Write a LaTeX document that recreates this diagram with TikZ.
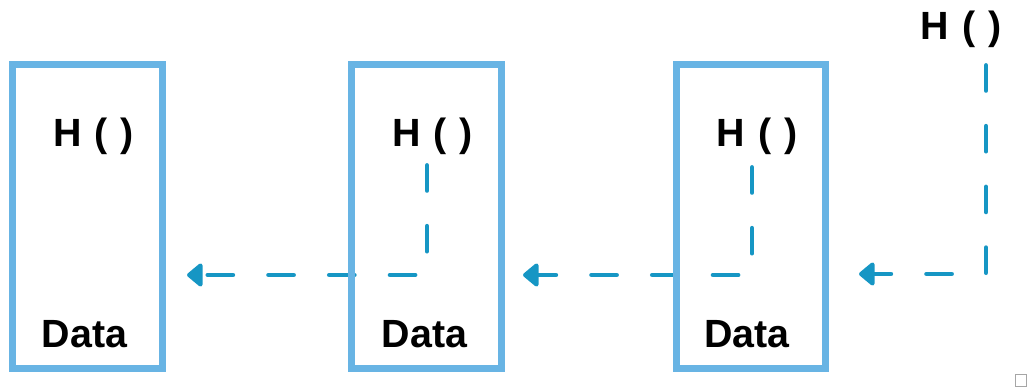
\documentclass[tikz,border=0pt]{standalone}
\usepackage{fontspec}
\setmainfont{Liberation Sans}
\usetikzlibrary{calc,arrows.meta,backgrounds}
\definecolor{boxblue}{RGB}{104,180,228}
\definecolor{linkblue}{RGB}{22,150,196}
\newcommand\lblfont{\fontsize{28}{34}\selectfont\bfseries\spaceskip=0.33em\relax}
\begin{document}
\begin{tikzpicture}[x=0.025cm,y=0.025cm,
  block/.style={draw=boxblue,line width=5pt,minimum width=3.725cm,minimum height=7.575cm,inner sep=0pt},
  lbl/.style={anchor=base,inner sep=0pt,font=\lblfont},
  link/.style={draw=linkblue,line width=3.5pt,line cap=round,dash pattern=on 17.7pt off 25.5pt,
    -{Triangle[length=12pt,width=19pt,round]}}]
\useasboundingbox (0,0) rectangle (1028,389);
% blocks
\node[block] (b1) at (87.5,172.5) {};
\node[block] (b2) at (426.5,172.5) {};
\node[block] (b3) at (751,172.5) {};
% labels
\node[lbl] (h1) at ($(b1.center)+(6,69.5)$) {H ( )};
\node[lbl] (h2) at ($(b2.center)+(6,69.5)$) {H ( )};
\node[lbl] (h3) at ($(b3.center)+(6,69.5)$) {H ( )};
\node[lbl] (h4) at (961,349) {H ( )};
\node[lbl] (d1) at ($(b1.center)+(-3,-130.5)$) {Data};
\node[lbl] (d2) at ($(b2.center)+(-2,-130.5)$) {Data};
\node[lbl] (d3) at ($(b3.center)+(-4,-130.5)$) {Data};
% hash pointers, under the blocks
\begin{scope}[on background layer]
\draw[link] ($(h4.base)+(25,-25.5)$) |- ($(b3.east)+(30,-57.5)$);
\draw[link] ($(h3.base)+(-5,-20.5)$) |- ($(b2.east)+(18.5,-58.5)$);
\draw[link] ($(h2.base)+(-5.5,-18.5)$) |- ($(b1.east)+(21.5,-58.5)$);
\end{scope}
% corner mark
\draw[gray!70,line width=0.6pt] (1015,3) rectangle (1026,15);
\end{tikzpicture}
\end{document}
